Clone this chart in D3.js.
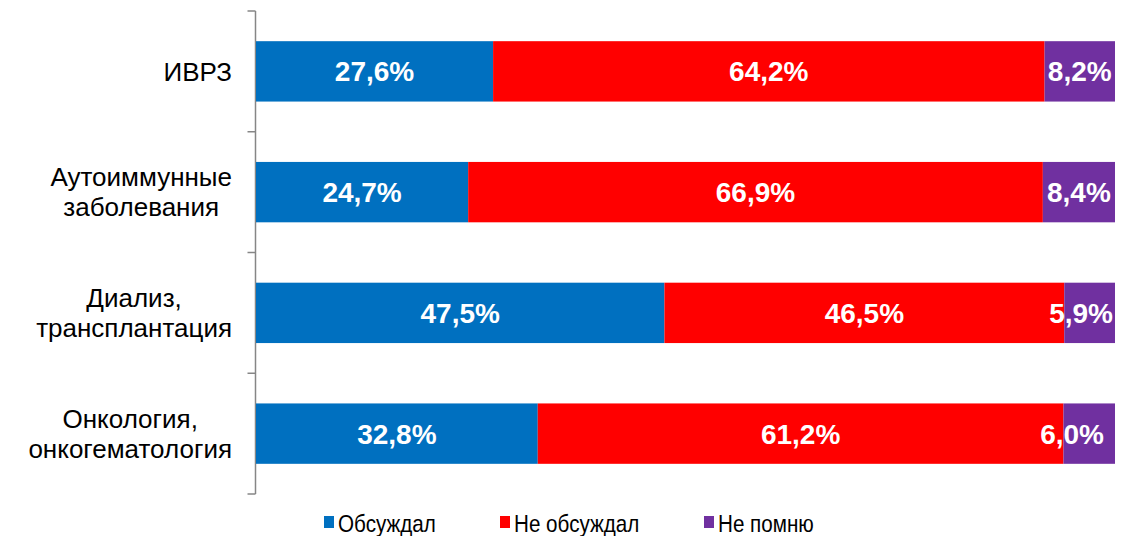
<!DOCTYPE html>
<html>
<head>
<meta charset="utf-8">
<script src="https://cdn.jsdelivr.net/npm/d3@7"></script>
<style>
  body { margin: 0; background: #fff; }
  svg { display: block; font-family: "Liberation Sans", Arial, sans-serif; }
</style>
</head>
<body>
<div id="chart"></div>
<script>
const categories = [
  ["ИВРЗ"],
  ["Аутоиммунные", "заболевания"],
  ["Диализ,", "трансплантация"],
  ["Онкология,", "онкогематология"]
];
const seriesNames = ["Обсуждал", "Не обсуждал", "Не помню"];
const discussed    = [27.6, 24.7, 47.5, 32.8];
const notDiscussed = [64.2, 66.9, 46.5, 61.2];
const dontRemember = [8.2, 8.4, 5.9, 6.0];
const colors = ["#0070C0", "#FF0000", "#7030A0"];

const width = 1135, height = 536;
const svg = d3.select("#chart").append("svg")
  .attr("width", width)
  .attr("height", height);

const keys = categories.map((c, i) => "c" + i);
const rows = keys.map((k, i) => ({
  key: k, vals: [discussed[i], notDiscussed[i], dontRemember[i]]
}));

const x = d3.scaleLinear().domain([0, 1]).range([256, 1115]);
const y = d3.scaleBand().domain(keys).range([11, 494])
  .paddingInner(0.5).paddingOuter(0.25);

// axis line + ticks at category boundaries
const axisX = 255.5;
svg.append("line")
  .attr("x1", axisX).attr("x2", axisX)
  .attr("y1", y.range()[0]).attr("y2", y.range()[1])
  .attr("stroke", "#868686").attr("stroke-width", 1.5);
d3.range(keys.length + 1).forEach(i => {
  const ty = y.range()[0] + i * (y.range()[1] - y.range()[0]) / keys.length;
  svg.append("line")
    .attr("x1", axisX - 8).attr("x2", axisX)
    .attr("y1", ty).attr("y2", ty)
    .attr("stroke", "#868686").attr("stroke-width", 1.5);
});

// bars
rows.forEach(r => {
  const total = d3.sum(r.vals);
  let acc = 0;
  const g = svg.append("g");
  r.vals.forEach((v, j) => {
    const x0 = x(acc / total), x1 = x((acc + v) / total);
    acc += v;
    g.append("rect")
      .attr("x", x0).attr("y", y(r.key))
      .attr("width", x1 - x0).attr("height", y.bandwidth())
      .attr("fill", colors[j]);
    const t = g.append("text")
      .attr("y", y(r.key) + y.bandwidth() / 2)
      .attr("dy", "0.36em")
      .attr("text-anchor", "middle")
      .attr("fill", "#fff")
      .attr("font-weight", "bold")
      .attr("font-size", 28)
      .text(v.toFixed(1).replace(".", ",") + "%");
    const w = t.node().getComputedTextLength();
    // last label of the bottom row sits a bit further left in the original
    const edge = (r.key === "c3" && j === 2) ? 11 : 2;
    const cx = Math.min((x0 + x1) / 2, x.range()[1] - edge - w / 2);
    t.attr("x", cx);
  });
});

// category labels
categories.forEach((lines, i) => {
  const cy = y(keys[i]) + y.bandwidth() / 2;
  const t = svg.append("text")
    .attr("font-size", 26)
    .attr("fill", "#000")
    .attr("text-anchor", "middle");
  const lh = 30;
  lines.forEach((ln, k) => {
    t.append("tspan")
      .attr("y", cy + (k - (lines.length - 1) / 2) * lh)
      .attr("dy", "0.36em")
      .text(ln);
  });
  const maxW = d3.max(t.selectAll("tspan").nodes(), n => n.getComputedTextLength());
  t.selectAll("tspan").attr("x", 232 - maxW / 2);
});

// legend (narrow-looking font in the original)
const legendX = [324, 500, 704];
seriesNames.forEach((name, j) => {
  const g = svg.append("g").attr("transform", `translate(${legendX[j]},0)`);
  g.append("rect")
    .attr("x", 0).attr("y", 516)
    .attr("width", 10).attr("height", 12)
    .attr("fill", colors[j]);
  g.append("text")
    .attr("transform", "translate(14,532) scale(0.86,1)")
    .attr("font-size", 24)
    .attr("fill", "#000")
    .text(name);
});
</script>
</body>
</html>
